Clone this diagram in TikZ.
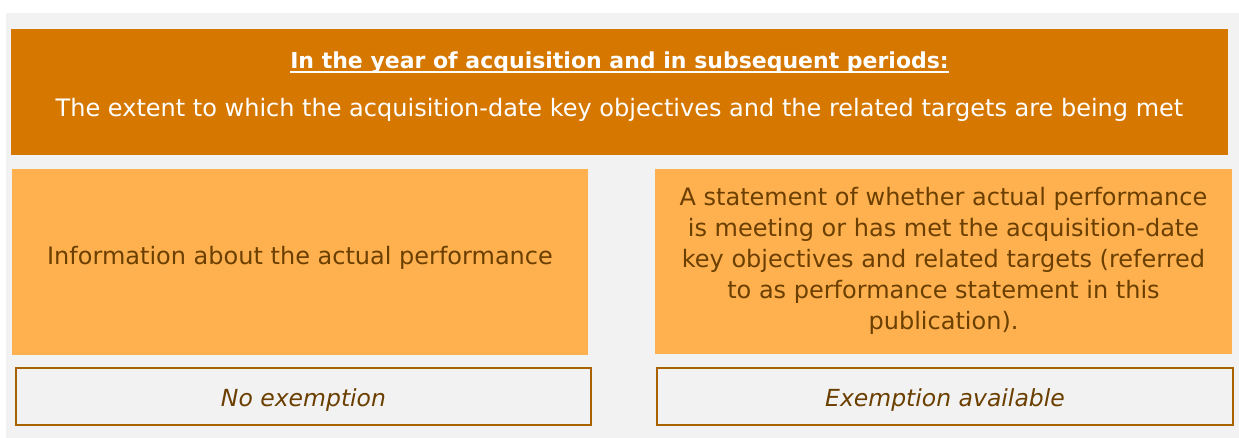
\documentclass[tikz,border=0pt]{standalone}
\usepackage{fontspec}
\setmainfont{DejaVu Sans}
\newcommand\ulx[1]{\setbox0\hbox{#1}\rlap{\rule[-4.5pt]{\wd0}{2pt}}\box0}
\definecolor{pagebg}{HTML}{F2F2F2}
\definecolor{darkor}{HTML}{D67800}
\definecolor{lightor}{HTML}{FFB14F}
\definecolor{edgebr}{HTML}{A86200}
\definecolor{textbr}{HTML}{6B3F00}
\tikzset{
  darkbox/.style={fill=darkor, draw=none, inner sep=0pt},
  lightbox/.style={fill=lightor, draw=none, inner sep=0pt},
  outlinebox/.style={fill=pagebg, draw=edgebr, line width=2pt, inner sep=0pt},
  txt/.style={inner sep=0pt, anchor=base, font=\fontsize{24}{31}\selectfont},
  ittxt/.style={inner sep=0pt, anchor=base, font=\fontsize{23.5}{31}\selectfont\itshape, text=textbr},
}
\begin{document}
\begin{tikzpicture}[x=1pt,y=-1pt]
\useasboundingbox (0,0) rectangle (1239,438);
\fill[pagebg] (6,13) rectangle (1239,438);
% top box
\node[darkbox, minimum width=1217pt, minimum height=126pt] (top) at (619.5,92) {};
\node[txt, text=white, font=\fontsize{22}{28}\selectfont\bfseries] (title) at (619.5,69) {\ulx{In the year of acquisition and in subsequent periods:}};
\node[txt, text=white] (sub) at (619.5,117) {The extent to which the acquisition-date key objectives and the related targets are being met};
% middle boxes
\node[lightbox, minimum width=576pt, minimum height=186pt] (info) at (300,262) {};
\node[txt, text=textbr] (infotxt) at (300,265) {Information about the actual performance};
\node[lightbox, minimum width=577pt, minimum height=185pt] (stmt) at (943.5,261.5) {};
\node[txt, anchor=center, text=textbr, align=center] (stmttxt) at (943.5,261) {A statement of whether actual performance\\is meeting or has met the acquisition-date\\key objectives and related targets (referred\\to as performance statement in this\\publication).};
% bottom boxes
\node[outlinebox, minimum width=575pt, minimum height=57pt] (noex) at (303.5,396.5) {};
\node[ittxt] (noextxt) at (303.5,406) {No exemption};
\node[outlinebox, minimum width=576pt, minimum height=57pt] (ex) at (945,396.5) {};
\node[ittxt] (extxt) at (945,406) {Exemption available};
\end{tikzpicture}
\end{document}
